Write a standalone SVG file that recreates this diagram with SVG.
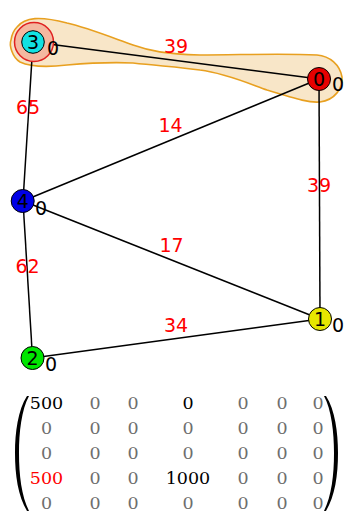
<svg xmlns="http://www.w3.org/2000/svg" width="349" height="511" viewBox="0 0 349 511">
<style>
.edge{stroke:#000;stroke-width:1.5;fill:none}
.node circle{stroke:#000;stroke-width:1}
.nl{font-family:"DejaVu Sans",sans-serif;font-size:19px;text-anchor:middle;fill:#000}
.sl{font-family:"DejaVu Sans",sans-serif;font-size:19px;fill:#000}
.el{font-family:"DejaVu Sans",sans-serif;font-size:19px;text-anchor:middle;fill:#ff0000}
.m{font-family:"DejaVu Serif",serif;font-size:17.5px;text-anchor:middle;fill:#6e6e6e}
.k{fill:#000}
.r{fill:#ff0000}
</style>
<rect width="349" height="511" fill="#fff"/>
<g id="hull">
<path d="M17,27 C25,17 40,16 67,23 C85,27 100,33 133,45 C150,51 165,54 200,55 C240,55 280,53 317,55 C330,56 340,65 342,77 C343,88 335,100 320,102 C310,103 300,100 267,90 C250,84 225,73 200,70 C180,67 160,66 133,63 C110,62 90,63 67,65 C50,67 33,68 20,62 C12,57 9,45 11,40 C12,33 14,30 17,27 Z" fill="#f8e6c8" stroke="#e8a020" stroke-width="1.6"/>
</g>
<g id="connectors">
<line class="edge" x1="33" y1="42" x2="319" y2="79"/>
<line class="edge" x1="33" y1="42" x2="23" y2="201"/>
<line class="edge" x1="319" y1="79" x2="23" y2="201"/>
<line class="edge" x1="319" y1="79" x2="320" y2="319"/>
<line class="edge" x1="23" y1="201" x2="320" y2="319"/>
<line class="edge" x1="23" y1="201" x2="32.5" y2="358"/>
<line class="edge" x1="32.5" y1="358" x2="320" y2="319"/>
<text class="el" x="176" y="53">39</text>
<text class="el" x="28" y="114">65</text>
<text class="el" x="170.5" y="132">14</text>
<text class="el" x="319" y="192">39</text>
<text class="el" x="171.5" y="252">17</text>
<text class="el" x="27.5" y="273">62</text>
<text class="el" x="176" y="332">34</text>
</g>
<g id="node3" class="node">
<circle cx="34" cy="42" r="19.5" fill="#f4b8a0" style="stroke:#e02020;stroke-width:1.5"/>
<circle cx="33" cy="42" r="11.3" fill="#12e2e2"/>
<text class="nl" x="33" y="49.3">3</text>
<text class="sl" x="47" y="55">0</text>
</g>
<g id="node0" class="node">
<circle cx="319" cy="79" r="11.5" fill="#e60000"/>
<text class="nl" x="319" y="86">0</text>
<text class="sl" x="332" y="91">0</text>
</g>
<g id="node4" class="node">
<circle cx="22.7" cy="201" r="11.5" fill="#0000e6"/>
<text class="nl" x="22.7" y="208">4</text>
<text class="sl" x="35" y="215">0</text>
</g>
<g id="node1" class="node">
<circle cx="320" cy="319" r="11.5" fill="#e6e600"/>
<text class="nl" x="320" y="326">1</text>
<text class="sl" x="332" y="332">0</text>
</g>
<g id="node2" class="node">
<circle cx="32.5" cy="358" r="11.5" fill="#00e600"/>
<text class="nl" x="32.5" y="365">2</text>
<text class="sl" x="45" y="371">0</text>
</g>
<g id="matrix">
<path d="M27,396 C18,410 15,432 15,453 C15,475 18,496 27,511 L29,511 C21.5,496 19,475 19,453 C19,432 21.5,410 29,396 Z" fill="#000"/>
<path d="M326,396 C335,410 338,432 338,453 C338,475 335,496 326,511 L324,511 C331.5,496 334,475 334,453 C334,432 331.5,410 324,396 Z" fill="#000"/>
<text class="m k" x="46.5" y="409">500</text><text class="m" x="95" y="409">0</text><text class="m" x="133" y="409">0</text><text class="m k" x="188" y="409">0</text><text class="m" x="243" y="409">0</text><text class="m" x="282" y="409">0</text><text class="m" x="318" y="409">0</text>
<text class="m" x="46.5" y="434">0</text><text class="m" x="95" y="434">0</text><text class="m" x="133" y="434">0</text><text class="m" x="188" y="434">0</text><text class="m" x="243" y="434">0</text><text class="m" x="282" y="434">0</text><text class="m" x="318" y="434">0</text>
<text class="m" x="46.5" y="459">0</text><text class="m" x="95" y="459">0</text><text class="m" x="133" y="459">0</text><text class="m" x="188" y="459">0</text><text class="m" x="243" y="459">0</text><text class="m" x="282" y="459">0</text><text class="m" x="318" y="459">0</text>
<text class="m r" x="46.5" y="484">500</text><text class="m" x="95" y="484">0</text><text class="m" x="133" y="484">0</text><text class="m k" x="188" y="484">1000</text><text class="m" x="243" y="484">0</text><text class="m" x="282" y="484">0</text><text class="m" x="318" y="484">0</text>
<text class="m" x="46.5" y="509">0</text><text class="m" x="95" y="509">0</text><text class="m" x="133" y="509">0</text><text class="m" x="188" y="509">0</text><text class="m" x="243" y="509">0</text><text class="m" x="282" y="509">0</text><text class="m" x="318" y="509">0</text>
</g>
</svg>
